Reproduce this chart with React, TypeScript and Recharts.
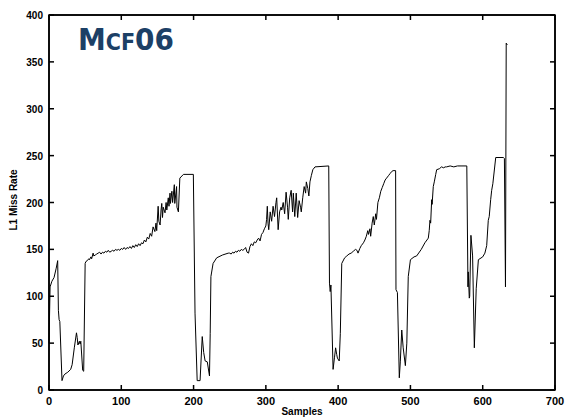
import { LineChart, Line, XAxis, YAxis, ReferenceLine, ReferenceArea } from 'recharts';

// tick values
const xTicks = [0, 100, 200, 300, 400, 500, 600, 700];
const yTicks = [0, 50, 100, 150, 200, 250, 300, 350, 400];

// [sample, L1 miss rate], one array per phase
const phase1 = [
  [0, 50], [1.5, 110], [4, 116], [7, 120], [10, 130], [12, 138], [13, 85], [14, 75], [15, 73],
  [18, 10], [20, 15], [22, 17], [26, 19], [30, 22], [32, 27], [35, 45], [38, 61], [39, 56],
  [40, 48], [42, 52], [43, 49], [44, 52], [46.6, 21], [48, 20],
];
const phase2 = [
  [50, 135], [51, 137], [53, 138], [55, 140], [56, 139], [58, 142], [59, 140], [61, 146], [62, 143],
  [64, 144], [66, 145], [68, 146], [70, 147], [72, 145], [74, 147], [76, 146], [78, 148], [80, 147],
  [82, 149], [84, 147], [86, 148], [88, 149], [90, 148], [92, 150], [94, 149], [96, 150], [98, 149],
  [100, 151], [102, 150], [104, 152], [106, 150], [108, 152], [110, 151], [112, 153], [114, 151],
  [116, 154], [118, 152], [120, 155], [122, 153], [124, 156], [126, 154], [128, 157], [130, 156],
  [132, 160], [134, 158], [136, 163], [138, 161], [140, 167], [142, 164], [144, 174], [146.5, 169],
  [148, 178], [149, 170], [151, 196], [152, 180], [153.7, 176], [155, 192], [156, 199], [157, 184],
  [158, 195], [160.5, 189], [162, 200], [163, 192], [165, 205], [166, 196], [167.4, 210], [168, 199],
  [170, 212], [171, 200], [173.4, 219], [174, 199], [176.5, 217], [177, 195], [179, 190], [181, 226],
  [186, 230], [199.7, 230],
];
const phase3 = [
  [202, 82], [205, 10], [209, 10], [212, 57], [214, 40], [216, 31], [219, 30], [222, 15], [223, 60],
  [224, 121], [227, 135], [232, 141], [240, 144], [248, 146],
];
const phase4 = [
  [250, 146], [252, 145], [254, 147], [256, 146], [258, 148], [260, 147], [262, 149], [264, 148],
  [266, 150], [268, 149], [270, 150], [272, 152], [274, 147], [276, 146], [278, 153], [280, 156],
  [282, 154], [284, 158], [286, 157], [288, 160], [290, 162], [292, 159], [294, 166], [296, 168],
  [298, 172], [300, 175], [301, 182], [302, 196], [303, 178], [304, 171], [306, 190], [308, 180],
  [310, 196], [312, 185], [314, 200], [315, 205], [317, 171], [319, 190], [321, 195], [322, 192],
  [324, 200], [326, 188], [328, 211], [330, 195], [331, 182], [333, 205], [335, 213], [337, 190],
  [338, 210], [340, 185], [342, 210], [344, 184], [346, 202], [348, 195], [349, 190], [351, 205],
  [353, 217], [355, 210], [356, 222], [358, 215], [359.5, 207], [361, 222], [363, 229], [365, 235],
  [368, 238], [387, 239],
];
const phase5 = [
  [388, 114], [389, 105], [390, 112], [393, 22], [395, 35], [396.5, 45], [398, 38], [399, 34],
  [401.5, 31], [403, 60], [405, 135], [409, 141],
];
const phase6 = [
  [412, 143], [415, 145], [418, 146], [421, 148], [424, 150], [426, 149], [427.5, 146], [430, 151],
  [432, 154], [435, 157], [437, 160], [439, 164], [441, 170], [442, 166], [444, 172], [445, 164],
  [447, 178], [448.6, 185], [450, 176], [452, 188], [453, 182], [455, 200], [457, 205], [459, 212],
  [461, 216], [463, 220], [465, 224], [467, 226], [470, 229], [472, 231], [474, 233], [476, 234],
  [479.5, 234],
];
const phase7 = [
  [480, 107], [482, 104], [484.6, 13], [486, 30], [488, 64], [490, 45], [493, 26], [495, 50],
  [497, 121], [500, 139], [505, 142], [508.6, 143], [515, 150], [520, 157], [524.7, 162], [526, 170],
  [527, 181], [528, 178], [529.4, 203], [530, 198], [531.6, 217], [533, 222], [535, 230], [536.3, 235],
  [540, 236], [543, 238], [546, 237], [548, 238], [550, 238], [555, 239], [560, 238], [565, 239],
  [570, 239], [578, 239],
];
const phase8 = [
  [579.6, 110], [580, 126], [581.4, 98], [582, 100], [583.7, 165], [586, 143], [588.4, 45], [591, 108],
  [594, 139], [600, 142], [603, 146], [605.5, 154], [607.7, 181], [609, 185], [611, 203], [612.4, 213],
  [614, 220], [618, 248], [628.5, 248], [630, 247], [631.5, 110], [632.5, 370], [634, 368],
];

const series = [phase1, phase2, phase3, phase4, phase5, phase6, phase7, phase8]
  .flat()
  .map(([sample, rate]) => ({ sample, rate }));

const W = 565;
const H = 420;
const margin = { top: 15, right: 10, bottom: 0, left: 0 };
const yAxisW = 49;
const xAxisH = 30;
const plotW = W - margin.left - margin.right - yAxisW;
const plotH = H - margin.top - margin.bottom - xAxisH;

const font = '"Liberation Sans", Arial, sans-serif';
const titleFont = '"DejaVu Sans", sans-serif';
const titleColor = '#1c4066';

// bottom ticks point inward, and are mirrored on the top frame edge
const BottomTick = (props: any) => {
  const { x, y, payload } = props;
  return (
    <g>
      <line x1={x} y1={y} x2={x} y2={y - 5} stroke="#000" strokeWidth={1.5} />
      <line x1={x} y1={y - plotH} x2={x} y2={y - plotH + 5} stroke="#000" strokeWidth={1.5} />
      <text x={x} y={y + 15} textAnchor="middle" fontSize={11} fontWeight="bold" fontFamily={font} fill="#000">
        {payload.value}
      </text>
    </g>
  );
};

// left ticks point inward, mirrored on the right frame edge
const LeftTick = (props: any) => {
  const { x, y, payload } = props;
  return (
    <g>
      <line x1={x} y1={y} x2={x + 5} y2={y} stroke="#000" strokeWidth={1.5} />
      <line x1={x + plotW} y1={y} x2={x + plotW - 5} y2={y} stroke="#000" strokeWidth={1.5} />
      <text x={x - 6} y={y + 4} textAnchor="end" fontSize={10} fontWeight="bold" fontFamily={font} fill="#000">
        {payload.value}
      </text>
    </g>
  );
};

const label: any = {
  position: 'absolute',
  fontFamily: font,
  fontWeight: 'bold',
  fontSize: 10,
  lineHeight: '12px',
  whiteSpace: 'nowrap',
  color: '#000',
};

export default function App() {
  return (
    <div style={{ position: 'absolute', left: 0, top: 0, width: W, height: H, background: '#fff' }}>
      <LineChart width={W} height={H} data={series} margin={margin}>
        <XAxis
          dataKey="sample"
          type="number"
          domain={[0, 700]}
          ticks={xTicks}
          height={xAxisH}
          tickSize={0}
          tickMargin={0}
          tickLine={false}
          axisLine={{ stroke: '#000', strokeWidth: 1.5 }}
          tick={<BottomTick />}
          interval={0}
        />
        <YAxis
          type="number"
          domain={[0, 400]}
          ticks={yTicks}
          width={yAxisW}
          tickSize={0}
          tickMargin={0}
          tickLine={false}
          axisLine={{ stroke: '#000', strokeWidth: 1.5 }}
          tick={<LeftTick />}
          interval={0}
        />
        {/* plot frame */}
        <ReferenceArea x1={0} x2={700} y1={0} y2={400} fill="none" stroke="#000" strokeWidth={1.5} ifOverflow="visible" />
        <ReferenceLine y={400} stroke="#000" strokeWidth={1.5} ifOverflow="visible" />
        <ReferenceLine x={700} stroke="#000" strokeWidth={1.5} ifOverflow="visible" />
        <Line
          dataKey="rate"
          type="linear"
          stroke="#000"
          strokeWidth={1}
          dot={false}
          isAnimationActive={false}
        />
      </LineChart>
      <div style={{ ...label, left: 14, top: 200, transform: 'translate(-50%, -50%) rotate(-90deg)' }}>
        L1 Miss Rate
      </div>
      <div style={{ ...label, left: 302, top: 412, transform: 'translate(-50%, -50%)' }}>Samples</div>
      <div
        style={{
          position: 'absolute',
          left: 78,
          top: 24,
          fontFamily: titleFont,
          fontWeight: 'bold',
          color: titleColor,
          lineHeight: '31px',
          whiteSpace: 'nowrap',
          transform: 'scaleX(0.9)',
          transformOrigin: 'left center',
        }}
      >
        <span style={{ fontSize: 31 }}>M</span>
        <span style={{ fontSize: 23 }}>CF</span>
        <span style={{ fontSize: 31 }}>06</span>
      </div>
    </div>
  );
}
